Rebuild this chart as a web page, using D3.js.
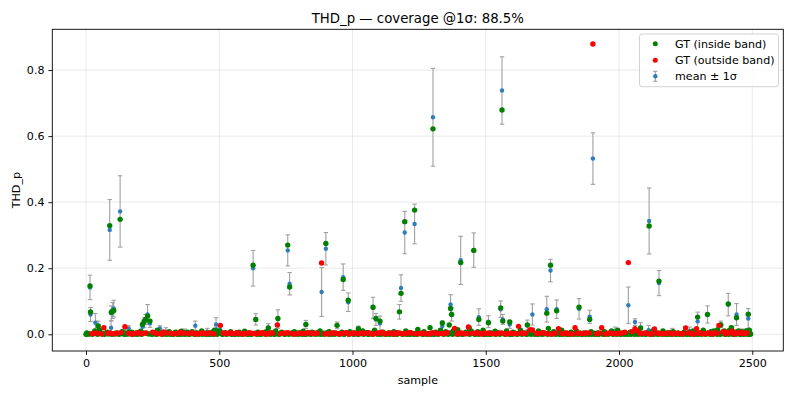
<!DOCTYPE html>
<html><head><meta charset="utf-8">
<script src="https://cdn.jsdelivr.net/npm/d3@7/dist/d3.min.js"></script>
<style>
html,body{margin:0;padding:0;background:#fff;}
svg{display:block;font-family:"DejaVu Sans",sans-serif;}
</style></head><body>
<svg id="chart" width="796" height="398"></svg>
<script>
// ---------- data ----------
const titleText = "THD_p — coverage @1σ: 88.5%";
const xTicks = [0, 500, 1000, 1500, 2000, 2500];
const yTicks = [0.0, 0.2, 0.4, 0.6, 0.8];

// mean ± 1σ : [sample, mean, sigma]
const meanSigma = [
 [15,0.142,0.037],[17,0.060,0.021],[35,0.035,0.028],[46,0.022,0.018],[89,0.316,0.092],
 [94,0.020,0.020],[95,0.064,0.022],[100,0.072,0.024],[104,0.078,0.025],[128,0.372,0.108],
 [146,0.005,0.010],[160,0.018,0.008],[212,0.023,0.012],[218,0.035,0.015],[223,0.045,0.015],
 [231,0.060,0.030],[240,0.033,0.012],[277,0.018,0.008],[300,0.008,0.012],[370,0.006,0.010],
 [410,0.026,0.014],[455,0.008,0.010],[488,0.030,0.020],[490,0.015,0.010],[504,0.012,0.010],
 [627,0.200,0.054],[637,0.045,0.017],[684,0.020,0.012],[720,0.046,0.028],[757,0.254,0.047],
 [764,0.153,0.034],[825,0.030,0.012],[884,0.128,0.074],[900,0.259,0.049],[942,0.027,0.010],
 [965,0.173,0.040],[984,0.097,0.028],[1022,0.017,0.008],[1077,0.080,0.032],[1088,0.045,0.018],
 [1103,0.033,0.022],[1176,0.068,0.022],[1182,0.140,0.040],[1196,0.308,0.064],[1233,0.334,0.060],
 [1302,0.657,0.148],[1337,0.025,0.015],[1368,0.090,0.030],[1372,0.060,0.020],[1406,0.224,0.073],
 [1438,0.012,0.010],[1455,0.255,0.052],[1474,0.052,0.025],[1510,0.038,0.018],[1556,0.076,0.025],
 [1561,0.738,0.102],[1564,0.045,0.015],[1590,0.030,0.012],[1656,0.028,0.015],[1675,0.060,0.032],
 [1729,0.076,0.039],[1743,0.193,0.034],[1766,0.076,0.028],[1850,0.077,0.031],[1890,0.053,0.020],
 [1902,0.532,0.078],[1985,0.010,0.012],[2035,0.088,0.055],[2060,0.037,0.010],[2081,0.020,0.015],
 [2111,0.012,0.015],[2113,0.343,0.100],[2150,0.155,0.038],[2200,0.008,0.010],[2265,0.010,0.012],
 [2295,0.039,0.028],[2332,0.060,0.026],[2382,0.030,0.010],[2410,0.090,0.034],[2419,0.010,0.015],
 [2441,0.060,0.033],[2460,0.006,0.010],[2475,0.006,0.010],[2485,0.048,0.030]
];

// GT inside the band : [sample, value]
const gtInside = [
 [15,0.146],[17,0.0675],[46,0.025],[89,0.329],[95,0.067],[100,0.070],[104,0.072],[128,0.348],
 [212,0.030],[218,0.039],[223,0.044],[231,0.055],[240,0.040],[627,0.209],[637,0.045],[684,0.019],
 [720,0.048],[757,0.270],[764,0.143],[825,0.030],[900,0.275],[942,0.027],[965,0.166],[984,0.103],
 [1022,0.017],[1077,0.082],[1088,0.048],[1103,0.040],[1176,0.068],[1182,0.124],[1196,0.341],
 [1233,0.376],[1302,0.622],[1337,0.034],[1363,0.028],[1368,0.078],[1372,0.060],[1406,0.217],
 [1438,0.019],[1455,0.254],[1474,0.045],[1510,0.035],[1556,0.080],[1561,0.679],[1564,0.040],
 [1590,0.037],[1656,0.028],[1729,0.064],[1743,0.209],[1766,0.071],[1850,0.082],[1890,0.045],
 [2081,0.019],[2113,0.328],[2150,0.161],[2295,0.052],[2332,0.060],[2382,0.028],[2410,0.092],
 [2441,0.050],[2485,0.061],
 [0,0.000],[5,0.001],[9,0.002],[28,0.003],[33,0.010],[50,0.012],[57,0.004],[62,0.001],[75,0.002],
 [79,0.006],[92,0.003],[108,0.001],[113,0.004],[122,0.002],[135,0.008],[140,0.001],[152,0.003],
 [166,0.002],[172,0.006],[185,0.001],[190,0.004],[200,0.002],[205,0.009],[227,0.003],[245,0.002],
 [256,0.005],[262,0.001],[268,0.012],[280,0.003],[285,0.001],[296,0.004],[305,0.002],[312,0.008],
 [325,0.001],[332,0.004],[346,0.002],[358,0.009],[362,0.001],[375,0.003],[380,0.006],[392,0.002],
 [398,0.008],[412,0.001],[426,0.003],[434,0.010],[446,0.002],[460,0.004],[468,0.001],[475,0.007],
 [482,0.012],[495,0.003],[500,0.010],[510,0.001],[522,0.005],[538,0.002],[543,0.008],[556,0.001],
 [562,0.003],[575,0.006],[590,0.002],[595,0.009],[608,0.001],[612,0.004],[625,0.002],[645,0.006],
 [650,0.001],[662,0.003],[676,0.008],[680,0.002],[696,0.004],[705,0.001],[712,0.010],[728,0.002],
 [734,0.006],[748,0.001],[770,0.003],[782,0.008],[788,0.001],[795,0.004],[808,0.002],[815,0.009],
 [830,0.001],[835,0.003],[848,0.006],[852,0.002],[866,0.004],[872,0.001],[878,0.010],[892,0.003],
 [906,0.002],[912,0.008],[925,0.001],[930,0.004],[948,0.002],[960,0.006],[970,0.001],[978,0.003],
 [990,0.008],[1002,0.002],[1008,0.004],[1018,0.001],[1026,0.003],[1038,0.010],[1045,0.002],
 [1056,0.005],[1062,0.001],[1072,0.003],[1083,0.012],[1096,0.002],[1115,0.006],[1120,0.001],
 [1135,0.004],[1142,0.002],[1155,0.008],[1160,0.001],[1170,0.004],[1190,0.002],[1200,0.010],
 [1212,0.001],[1218,0.005],[1228,0.002],[1245,0.015],[1250,0.003],[1262,0.001],[1268,0.008],
 [1282,0.002],[1291,0.020],[1308,0.001],[1312,0.006],[1325,0.003],[1330,0.012],[1345,0.002],
 [1350,0.008],[1378,0.010],[1390,0.002],[1395,0.014],[1410,0.001],[1425,0.006],[1430,0.002],
 [1445,0.010],[1450,0.003],[1465,0.001],[1470,0.008],[1485,0.002],[1490,0.012],[1500,0.001],
 [1520,0.004],[1528,0.002],[1535,0.009],[1548,0.003],[1570,0.002],[1578,0.010],[1596,0.001],
 [1602,0.006],[1612,0.002],[1630,0.012],[1645,0.003],[1650,0.001],[1662,0.008],[1680,0.002],
 [1698,0.010],[1705,0.001],[1718,0.004],[1735,0.018],[1750,0.002],[1755,0.008],[1778,0.001],
 [1785,0.012],[1800,0.003],[1806,0.001],[1820,0.006],[1826,0.002],[1840,0.010],[1862,0.001],
 [1868,0.004],[1882,0.002],[1895,0.008],[1908,0.001],[1920,0.004],[1928,0.002],[1945,0.008],
 [1950,0.001],[1965,0.003],[1972,0.010],[1988,0.002],[1995,0.012],[2008,0.001],[2015,0.004],
 [2028,0.002],[2042,0.006],[2054,0.003],[2066,0.002],[2075,0.008],[2098,0.001],[2104,0.004],
 [2120,0.002],[2126,0.010],[2140,0.001],[2145,0.004],[2160,0.002],[2165,0.010],[2178,0.001],
 [2184,0.004],[2196,0.002],[2203,0.008],[2218,0.001],[2224,0.003],[2238,0.002],[2244,0.006],
 [2258,0.001],[2264,0.004],[2278,0.010],[2284,0.002],[2300,0.001],[2312,0.003],[2316,0.012],
 [2328,0.002],[2345,0.008],[2350,0.001],[2356,0.010],[2365,0.003],[2370,0.014],[2386,0.002],
 [2395,0.010],[2400,0.001],[2415,0.012],[2422,0.020],[2430,0.002],[2436,0.006],[2448,0.010],
 [2452,0.001],[2462,0.008],[2466,0.002],[2478,0.010],[2489,0.012],[2494,0.001],
 [3,0.004],[12,0.001],[24,0.000],[37,0.002],[44,0.000],[53,0.003],[70,0.000],[85,0.001],[97,0.000],
 [116,0.002],[125,0.000],[143,0.003],[148,0.000],[157,0.001],[163,0.006],[175,0.000],[181,0.002],
 [193,0.000],[198,0.003],[209,0.000],[236,0.001],[248,0.000],[253,0.002],[265,0.000],[274,0.004],
 [288,0.000],[293,0.002],[302,0.000],[309,0.003],[315,0.000],[322,0.002],[328,0.000],[336,0.006],
 [343,0.000],[350,0.002],[355,0.000],[365,0.003],[372,0.000],[383,0.001],[388,0.000],[401,0.002],
 [407,0.000],[416,0.004],[423,0.000],[429,0.002],[437,0.000],[443,0.003],[450,0.000],[457,0.001],
 [463,0.000],[472,0.003],[478,0.000],[486,0.002],[492,0.000],[506,0.004],[513,0.000],[518,0.002],
 [527,0.000],[533,0.003],[546,0.000],[552,0.002],[559,0.000],[568,0.004],[572,0.000],[580,0.002],
 [586,0.000],[598,0.003],[604,0.000],[615,0.001],[620,0.000],[632,0.003],[641,0.000],[648,0.002],
 [657,0.000],[666,0.004],[673,0.000],[686,0.002],[693,0.000],[701,0.003],[708,0.000],[716,0.002],
 [724,0.000],[737,0.004],[744,0.000],[753,0.002],[762,0.000],[773,0.003],[778,0.000],[792,0.002],
 [798,0.000],[804,0.004],[812,0.000],[818,0.002],[823,0.000],[838,0.003],[843,0.000],[855,0.002],
 [862,0.000],[875,0.003],[882,0.000],[888,0.002],[895,0.000],[903,0.004],[915,0.000],[921,0.002],
 [933,0.000],[939,0.003],[951,0.000],[957,0.002],[968,0.000],[981,0.003],[987,0.000],[997,0.002],
 [1005,0.000],[1014,0.003],[1023,0.000],[1033,0.002],[1042,0.000],[1052,0.004],[1058,0.000],
 [1066,0.002],[1075,0.000],[1086,0.003],[1094,0.000],[1100,0.002],[1107,0.000],[1112,0.004],
 [1125,0.000],[1131,0.002],[1139,0.000],[1146,0.003],[1152,0.000],[1163,0.002],[1168,0.000],
 [1179,0.003],[1187,0.000],[1193,0.002],[1203,0.000],[1209,0.004],[1216,0.000],[1225,0.002],
 [1231,0.000],[1238,0.003],[1242,0.000],[1255,0.002],[1265,0.000],[1272,0.003],[1278,0.000],
 [1285,0.002],[1295,0.000],[1301,0.004],[1305,0.000],[1315,0.002],[1321,0.000],[1335,0.003],
 [1342,0.000],[1353,0.002],[1359,0.000],[1366,0.004],[1375,0.000],[1386,0.002],[1398,0.000],
 [1404,0.003],[1414,0.000],[1421,0.002],[1440,0.000],[1453,0.003],[1458,0.000],[1463,0.002],
 [1475,0.000],[1482,0.003],[1493,0.000],[1498,0.002],[1508,0.000],[1513,0.004],[1518,0.000],
 [1532,0.002],[1538,0.000],[1545,0.003],[1553,0.000],[1567,0.002],[1573,0.000],[1582,0.003],
 [1588,0.000],[1593,0.002],[1599,0.000],[1608,0.004],[1618,0.000],[1626,0.002],[1636,0.000],
 [1643,0.003],[1654,0.000],[1659,0.002],[1670,0.000],[1677,0.003],[1684,0.000],[1690,0.002],
 [1695,0.000],[1708,0.003],[1714,0.000],[1724,0.002],[1733,0.000],[1740,0.003],[1748,0.000],
 [1758,0.002],[1763,0.000],[1770,0.004],[1776,0.000],[1782,0.002],[1790,0.000],[1797,0.003],
 [1803,0.000],[1810,0.002],[1816,0.000],[1823,0.003],[1832,0.000],[1838,0.002],[1845,0.000],
 [1853,0.003],[1858,0.000],[1865,0.002],[1873,0.000],[1878,0.003],[1886,0.000],[1893,0.002],
 [1898,0.000],[1905,0.003],[1912,0.000],[1918,0.002],[1924,0.000],[1932,0.003],[1940,0.000],
 [1953,0.002],[1960,0.000],[1968,0.003],[1977,0.000],[1983,0.002],[1992,0.000],[2000,0.003],
 [2005,0.000],[2012,0.002],[2020,0.000],[2025,0.003],[2032,0.000],[2038,0.002],[2045,0.000],
 [2051,0.003],[2058,0.000],[2063,0.002],[2072,0.000],[2078,0.003],[2086,0.000],[2093,0.002],
 [2101,0.000],[2108,0.003],[2116,0.000],[2123,0.002],[2130,0.000],[2137,0.003],[2148,0.000],
 [2155,0.002],[2163,0.000],[2170,0.003],[2175,0.000],[2181,0.002],[2188,0.000],[2193,0.003],
 [2199,0.000],[2207,0.002],[2213,0.000],[2221,0.003],[2228,0.000],[2234,0.002],[2241,0.000],
 [2248,0.003],[2254,0.000],[2261,0.002],[2268,0.000],[2274,0.003],[2281,0.000],[2288,0.002],
 [2293,0.000],[2303,0.003],[2309,0.000],[2320,0.002],[2325,0.000],[2336,0.003],[2341,0.000],
 [2348,0.002],[2353,0.000],[2361,0.003],[2368,0.000],[2376,0.002],[2380,0.000],[2391,0.003],
 [2398,0.000],[2405,0.002],[2412,0.000],[2420,0.003],[2427,0.000],[2433,0.002],[2439,0.000],
 [2445,0.003],[2455,0.000],[2459,0.002],[2469,0.000],[2473,0.003],[2482,0.000],[2487,0.002],
 [2491,0.000]
];

// GT outside the band : [sample, value]
const gtOutside = [
 [22,0.002],[40,0.004],[67,0.020],[82,0.003],[101,0.002],[118,0.004],[146,0.023],[160,0.003],
 [178,0.002],[195,0.005],[214,0.003],[250,0.006],[272,0.002],[290,0.007],[318,0.003],[340,0.002],
 [352,0.006],[368,0.004],[385,0.002],[404,0.003],[420,0.002],[440,0.004],[455,0.003],[504,0.027],
 [515,0.004],[530,0.002],[548,0.003],[566,0.005],[584,0.002],[600,0.003],[618,0.004],[636,0.002],
 [655,0.003],[670,0.002],[690,0.004],[718,0.028],[740,0.003],[758,0.005],[775,0.002],[800,0.003],
 [820,0.002],[840,0.004],[858,0.003],[884,0.216],[896,0.002],[918,0.004],[936,0.003],[955,0.002],
 [975,0.005],[995,0.003],[1012,0.002],[1030,0.004],[1050,0.003],[1068,0.002],[1092,0.004],
 [1110,0.006],[1128,0.002],[1148,0.003],[1165,0.005],[1185,0.002],[1205,0.004],[1222,0.003],
 [1240,0.002],[1258,0.003],[1275,0.002],[1298,0.004],[1318,0.003],[1340,0.002],[1356,0.005],
 [1383,0.018],[1400,0.003],[1418,0.002],[1435,0.022],[1460,0.003],[1478,0.002],[1495,0.004],
 [1515,0.003],[1540,0.002],[1560,0.004],[1585,0.003],[1605,0.002],[1623,0.024],[1640,0.003],
 [1667,0.014],[1675,0.013],[1690,0.003],[1712,0.005],[1730,0.002],[1773,0.017],[1795,0.003],
 [1812,0.002],[1835,0.020],[1855,0.003],[1875,0.004],[1902,0.879],[1915,0.002],[1935,0.020],
 [1958,0.003],[1980,0.002],[2000,0.004],[2022,0.006],[2035,0.217],[2048,0.008],[2060,0.017],
 [2070,0.010],[2090,0.003],[2110,0.002],[2133,0.016],[2152,0.003],[2170,0.002],[2190,0.004],
 [2210,0.003],[2230,0.002],[2250,0.019],[2270,0.003],[2291,0.017],[2305,0.004],[2322,0.002],
 [2340,0.003],[2358,0.005],[2375,0.027],[2390,0.008],[2405,0.006],[2425,0.010],[2440,0.004],
 [2458,0.006],[2472,0.003],
 [30,0.003],[58,0.001],[90,0.004],[110,0.002],[132,0.005],[170,0.001],[186,0.003],[205,0.002],
 [225,0.004],[262,0.003],[282,0.001],[300,0.004],[330,0.002],[360,0.003],[395,0.005],[412,0.001],
 [430,0.003],[448,0.002],[465,0.004],[480,0.001],[522,0.003],[540,0.005],[558,0.002],[575,0.003],
 [592,0.001],[610,0.004],[628,0.002],[646,0.003],[662,0.005],[680,0.001],[700,0.003],[730,0.002],
 [750,0.004],[785,0.001],[810,0.003],[830,0.005],[848,0.002],[868,0.003],[908,0.001],[928,0.004],
 [945,0.002],[965,0.003],[985,0.001],[1003,0.004],[1020,0.002],[1040,0.003],[1060,0.005],
 [1080,0.001],[1100,0.003],[1120,0.002],[1138,0.004],[1158,0.001],[1175,0.003],[1195,0.002],
 [1215,0.005],[1250,0.002],[1268,0.003],[1288,0.001],[1308,0.004],[1328,0.002],[1348,0.003],
 [1392,0.001],[1410,0.004],[1428,0.002],[1448,0.003],[1468,0.005],[1488,0.001],[1505,0.003],
 [1525,0.002],[1550,0.004],[1575,0.001],[1595,0.003],[1615,0.002],[1632,0.004],[1650,0.003],
 [1700,0.002],[1720,0.004],[1745,0.001],[1760,0.003],[1785,0.002],[1805,0.004],[1825,0.001],
 [1845,0.003],[1865,0.002],[1888,0.004],[1925,0.003],[1948,0.001],[1968,0.004],[1990,0.002],
 [2010,0.003],[2080,0.002],[2100,0.004],[2122,0.001],[2142,0.003],[2160,0.002],[2180,0.004],
 [2200,0.001],[2220,0.003],[2240,0.002],[2260,0.004],[2280,0.001],[2298,0.003],[2315,0.002],
 [2332,0.004],[2350,0.001],[2368,0.003],[2398,0.002],[2415,0.004],[2432,0.001],[2450,0.003],
 [2465,0.002],[2480,0.004]
];

const legendLabels = ["GT (inside band)", "GT (outside band)", "mean ± 1σ"];
const colors = {inside: "#008000", outside: "#ff0000", mean: "#2f7ebc", bar: "#a0a0a0"};

// ---------- layout ----------
const svg = d3.select("#chart");
const L = 52.3, R = 783.3, T = 29.3, B = 351;
const x = d3.scaleLinear().domain([-126.5, 2616.5]).range([L, R]);
const y = d3.scaleLinear().domain([-0.0506, 0.9234]).range([B, T]);

// grid
const grid = svg.append("g");
grid.selectAll("line.gx").data(xTicks).join("line")
  .attr("x1", d => x(d)).attr("x2", d => x(d)).attr("y1", T).attr("y2", B)
  .attr("stroke", "#b0b0b0").attr("stroke-opacity", 0.3).attr("stroke-width", 0.9);
grid.selectAll("line.gy").data(yTicks).join("line")
  .attr("y1", d => y(d)).attr("y2", d => y(d)).attr("x1", L).attr("x2", R)
  .attr("stroke", "#b0b0b0").attr("stroke-opacity", 0.3).attr("stroke-width", 0.9);

// axes
const fs = 11.1;
const xAxis = svg.append("g").attr("transform", `translate(0,${B})`)
  .call(d3.axisBottom(x).tickValues(xTicks).tickFormat(d3.format("d")).tickSize(3.9).tickPadding(3.9));
const yAxis = svg.append("g").attr("transform", `translate(${L},0)`)
  .call(d3.axisLeft(y).tickValues(yTicks).tickFormat(d3.format(".1f")).tickSize(3.9).tickPadding(3.9));
[xAxis, yAxis].forEach(a => {
  a.select(".domain").remove();
  a.selectAll(".tick line").attr("stroke", "#000").attr("stroke-width", 0.9);
  a.selectAll(".tick text").attr("font-size", fs).attr("font-family", "DejaVu Sans").attr("fill", "#000");
});

// error bars (mean ± 1σ)
const eb = svg.append("g");
eb.selectAll("line.v").data(meanSigma).join("line")
  .attr("x1", d => x(d[0])).attr("x2", d => x(d[0]))
  .attr("y1", d => y(d[1] - d[2])).attr("y2", d => y(d[1] + d[2]))
  .attr("stroke", colors.bar).attr("stroke-width", 1.1);
const cap = 2.2;
eb.selectAll("line.ct").data(meanSigma).join("line")
  .attr("x1", d => x(d[0]) - cap).attr("x2", d => x(d[0]) + cap)
  .attr("y1", d => y(d[1] + d[2])).attr("y2", d => y(d[1] + d[2]))
  .attr("stroke", colors.bar).attr("stroke-width", 1.1);
eb.selectAll("line.cb").data(meanSigma).join("line")
  .attr("x1", d => x(d[0]) - cap).attr("x2", d => x(d[0]) + cap)
  .attr("y1", d => y(d[1] - d[2])).attr("y2", d => y(d[1] - d[2]))
  .attr("stroke", colors.bar).attr("stroke-width", 1.1);
eb.selectAll("circle").data(meanSigma).join("circle")
  .attr("cx", d => x(d[0])).attr("cy", d => y(d[1])).attr("r", 2.2)
  .attr("fill", colors.mean);

// GT scatter
svg.append("g").selectAll("circle").data(gtInside).join("circle")
  .attr("cx", d => x(d[0])).attr("cy", d => y(d[1])).attr("r", 2.7).attr("fill", colors.inside);
svg.append("g").selectAll("circle").data(gtOutside).join("circle")
  .attr("cx", d => x(d[0])).attr("cy", d => y(d[1])).attr("r", 2.7).attr("fill", colors.outside);

// frame
svg.append("rect").attr("x", L).attr("y", T).attr("width", R - L).attr("height", B - T)
  .attr("fill", "none").attr("stroke", "#000").attr("stroke-width", 0.9);

// title & labels
svg.append("text").attr("x", (L + R) / 2).attr("y", 23.3).attr("text-anchor", "middle")
  .attr("font-size", 13.3).attr("fill", "#000").text(titleText);
svg.append("text").attr("x", (L + R) / 2).attr("y", 384).attr("text-anchor", "middle")
  .attr("font-size", fs).attr("fill", "#000").text("sample");
svg.append("text").attr("transform", `translate(20,${(T + B) / 2}) rotate(-90)`)
  .attr("text-anchor", "middle").attr("font-size", fs).attr("fill", "#000").text("THD_p");

// legend
const lg = svg.append("g");
lg.append("rect").attr("x", 639.5).attr("y", 34).attr("width", 139).attr("height", 52.7)
  .attr("rx", 2.5).attr("fill", "#fff").attr("fill-opacity", 0.8)
  .attr("stroke", "#cccccc").attr("stroke-width", 0.9);
const ly = [43.7, 60.3, 76.3];
const mx = 655.3;
lg.append("circle").attr("cx", mx).attr("cy", ly[0]).attr("r", 2.5).attr("fill", colors.inside);
lg.append("circle").attr("cx", mx).attr("cy", ly[1]).attr("r", 2.5).attr("fill", colors.outside);
lg.append("line").attr("x1", mx).attr("x2", mx).attr("y1", ly[2] - 5).attr("y2", ly[2] + 5)
  .attr("stroke", colors.bar).attr("stroke-width", 1.1);
lg.append("line").attr("x1", mx - cap).attr("x2", mx + cap).attr("y1", ly[2] - 5).attr("y2", ly[2] - 5)
  .attr("stroke", colors.bar).attr("stroke-width", 1.1);
lg.append("line").attr("x1", mx - cap).attr("x2", mx + cap).attr("y1", ly[2] + 5).attr("y2", ly[2] + 5)
  .attr("stroke", colors.bar).attr("stroke-width", 1.1);
lg.append("circle").attr("cx", mx).attr("cy", ly[2]).attr("r", 2.2).attr("fill", colors.mean);
lg.selectAll("text").data(legendLabels).join("text")
  .attr("x", 675).attr("y", (d, i) => ly[i] + 4).attr("font-size", fs).attr("fill", "#000").text(d => d);
</script>
</body></html>
